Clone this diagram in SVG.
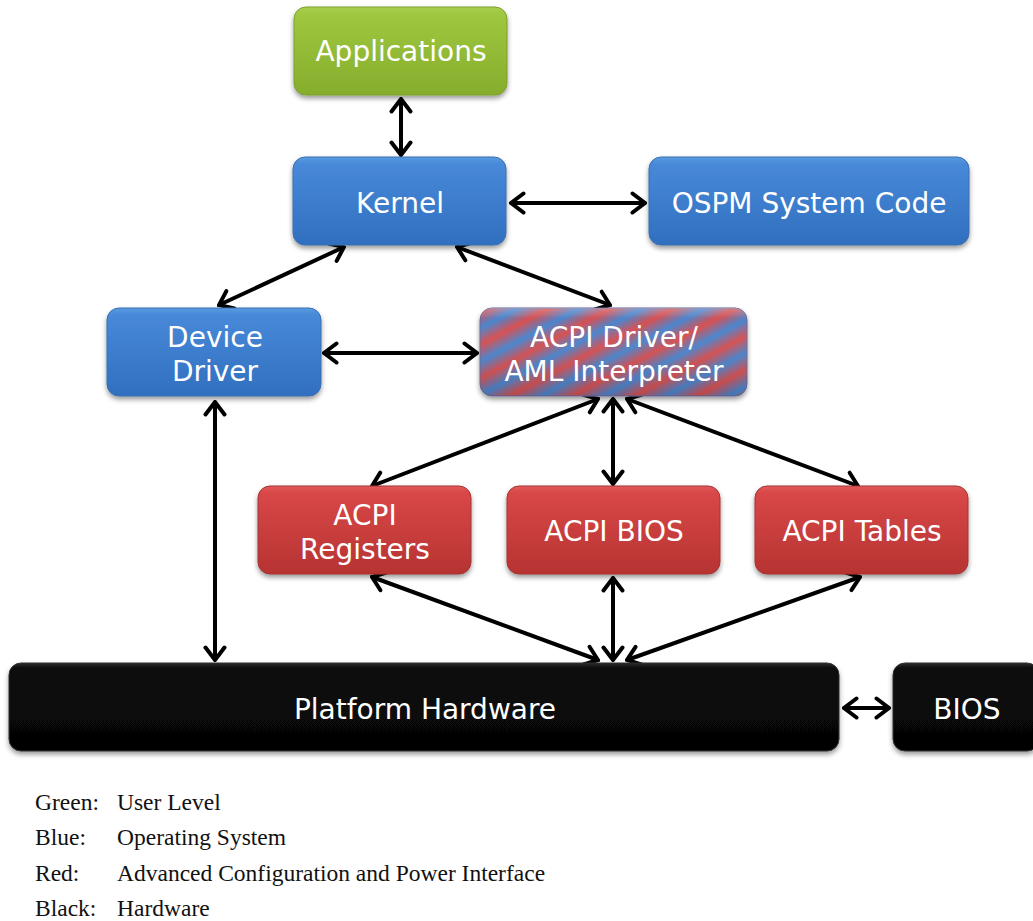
<svg xmlns="http://www.w3.org/2000/svg" width="1033" height="921" viewBox="0 0 1033 921">
  <defs>
    <linearGradient id="gGreen" x1="0" y1="0" x2="0" y2="1">
      <stop offset="0" stop-color="#a9cf4e"/>
      <stop offset="0.08" stop-color="#9fc73f"/>
      <stop offset="1" stop-color="#86ad2c"/>
    </linearGradient>
    <linearGradient id="gBlue" x1="0" y1="0" x2="0" y2="1">
      <stop offset="0" stop-color="#5a9be0"/>
      <stop offset="0.08" stop-color="#4789d8"/>
      <stop offset="1" stop-color="#316fbf"/>
    </linearGradient>
    <linearGradient id="gRed" x1="0" y1="0" x2="0" y2="1">
      <stop offset="0" stop-color="#e45a5c"/>
      <stop offset="0.08" stop-color="#d84747"/>
      <stop offset="1" stop-color="#b73332"/>
    </linearGradient>
    <linearGradient id="gBlack" x1="0" y1="0" x2="0" y2="1">
      <stop offset="0" stop-color="#2a2a2a"/>
      <stop offset="0.06" stop-color="#0a0a0a"/>
      <stop offset="1" stop-color="#050505"/>
    </linearGradient>
    <!-- diagonal red/blue stripes for the mixed ACPI/OS node -->
    <linearGradient id="gStripe" gradientUnits="userSpaceOnUse" x1="0" y1="0" x2="14" y2="26" spreadMethod="repeat">
      <stop offset="0" stop-color="#d84f50"/>
      <stop offset="0.5" stop-color="#4886d0"/>
      <stop offset="1" stop-color="#d84f50"/>
    </linearGradient>
    <linearGradient id="gGloss" x1="0" y1="0" x2="0" y2="1">
      <stop offset="0" stop-color="#ffffff" stop-opacity="0.25"/>
      <stop offset="0.12" stop-color="#ffffff" stop-opacity="0"/>
      <stop offset="1" stop-color="#000000" stop-opacity="0.12"/>
    </linearGradient>
    <filter id="shadow" x="-10%" y="-20%" width="120%" height="150%">
      <feDropShadow dx="0" dy="3" stdDeviation="2.5" flood-color="#000" flood-opacity="0.4"/>
    </filter>
    <marker id="head" viewBox="-16 -12 18 24" refX="0" refY="0" markerWidth="18" markerHeight="24" markerUnits="userSpaceOnUse" orient="auto-start-reverse">
      <path d="M -12.5 -9.5 L 0 0 L -12.5 9.5" fill="none" stroke="#000" stroke-width="4" stroke-linecap="round" stroke-linejoin="miter" stroke-miterlimit="10"/>
    </marker>
    <style>
      .box { stroke-width: 1; filter: url(#shadow); }
      .lbl { font-family: "DejaVu Sans", Verdana, sans-serif; font-size: 28px; fill: #ffffff; text-anchor: middle; }
      .leg { font-family: "Liberation Serif", "Times New Roman", serif; font-size: 23.5px; fill: #111; }
      .conn line { stroke: #000; stroke-width: 4; marker-start: url(#head); marker-end: url(#head); }
    </style>
  </defs>

  <rect width="1033" height="921" fill="#ffffff"/>

  <!-- connectors -->
  <g id="connectors" class="conn">
    <line x1="401" y1="99" x2="401" y2="155"/>
    <line x1="511" y1="203" x2="645" y2="203"/>
    <line x1="344" y1="247" x2="219" y2="305"/>
    <line x1="457" y1="247" x2="610" y2="305"/>
    <line x1="324" y1="353" x2="477" y2="353"/>
    <line x1="215" y1="402" x2="215" y2="660"/>
    <line x1="598" y1="399" x2="372" y2="486"/>
    <line x1="613" y1="399" x2="613" y2="484"/>
    <line x1="627" y1="399" x2="858" y2="486"/>
    <line x1="372" y1="577" x2="598" y2="660"/>
    <line x1="613" y1="578" x2="613" y2="660"/>
    <line x1="860" y1="577" x2="627" y2="660"/>
    <line x1="844" y1="708" x2="889" y2="708"/>
  </g>

  <g id="applications">
    <rect class="box" x="294" y="7" width="213" height="88" rx="12" fill="url(#gGreen)" stroke="#7d9f2e"/>
    <text class="lbl" x="401" y="61">Applications</text>
  </g>

  <g id="kernel">
    <rect class="box" x="293" y="157" width="213" height="88" rx="12" fill="url(#gBlue)" stroke="#3a6fb0"/>
    <text class="lbl" x="400" y="213">Kernel</text>
  </g>

  <g id="ospm">
    <rect class="box" x="649" y="157" width="320" height="88" rx="12" fill="url(#gBlue)" stroke="#3a6fb0"/>
    <text class="lbl" x="809" y="213">OSPM System Code</text>
  </g>

  <g id="device-driver">
    <rect class="box" x="107" y="308" width="214" height="88" rx="12" fill="url(#gBlue)" stroke="#3a6fb0"/>
    <text class="lbl" x="215" y="347">Device</text>
    <text class="lbl" x="215" y="381">Driver</text>
  </g>

  <g id="acpi-driver">
    <rect class="box" x="480" y="308" width="267" height="88" rx="12" fill="url(#gStripe)" stroke="#6a6a9a"/>
    <rect x="480" y="308" width="267" height="88" rx="12" fill="url(#gGloss)"/>
    <text class="lbl" x="614" y="347">ACPI Driver/</text>
    <text class="lbl" x="614" y="381">AML Interpreter</text>
  </g>

  <g id="acpi-registers">
    <rect class="box" x="258" y="486" width="213" height="88" rx="12" fill="url(#gRed)" stroke="#a33434"/>
    <text class="lbl" x="365" y="525">ACPI</text>
    <text class="lbl" x="365" y="559">Registers</text>
  </g>

  <g id="acpi-bios">
    <rect class="box" x="507" y="486" width="213" height="88" rx="12" fill="url(#gRed)" stroke="#a33434"/>
    <text class="lbl" x="614" y="541">ACPI BIOS</text>
  </g>

  <g id="acpi-tables">
    <rect class="box" x="755" y="486" width="213" height="88" rx="12" fill="url(#gRed)" stroke="#a33434"/>
    <text class="lbl" x="862" y="541">ACPI Tables</text>
  </g>

  <g id="platform-hardware">
    <rect class="box" x="9" y="663" width="830" height="88" rx="12" fill="url(#gBlack)" stroke="#333"/>
    <text class="lbl" x="425" y="719">Platform Hardware</text>
  </g>

  <g id="bios">
    <rect class="box" x="893" y="663" width="146" height="88" rx="12" fill="url(#gBlack)" stroke="#333"/>
    <text class="lbl" x="967" y="719">BIOS</text>
  </g>

  <g id="legend">
    <text class="leg" x="35" y="810">Green:</text>
    <text class="leg" x="117" y="810">User Level</text>
    <text class="leg" x="35" y="845">Blue:</text>
    <text class="leg" x="117" y="845">Operating System</text>
    <text class="leg" x="35" y="881">Red:</text>
    <text class="leg" x="117" y="881">Advanced Configuration and Power Interface</text>
    <text class="leg" x="35" y="916">Black:</text>
    <text class="leg" x="117" y="916">Hardware</text>
  </g>
</svg>
